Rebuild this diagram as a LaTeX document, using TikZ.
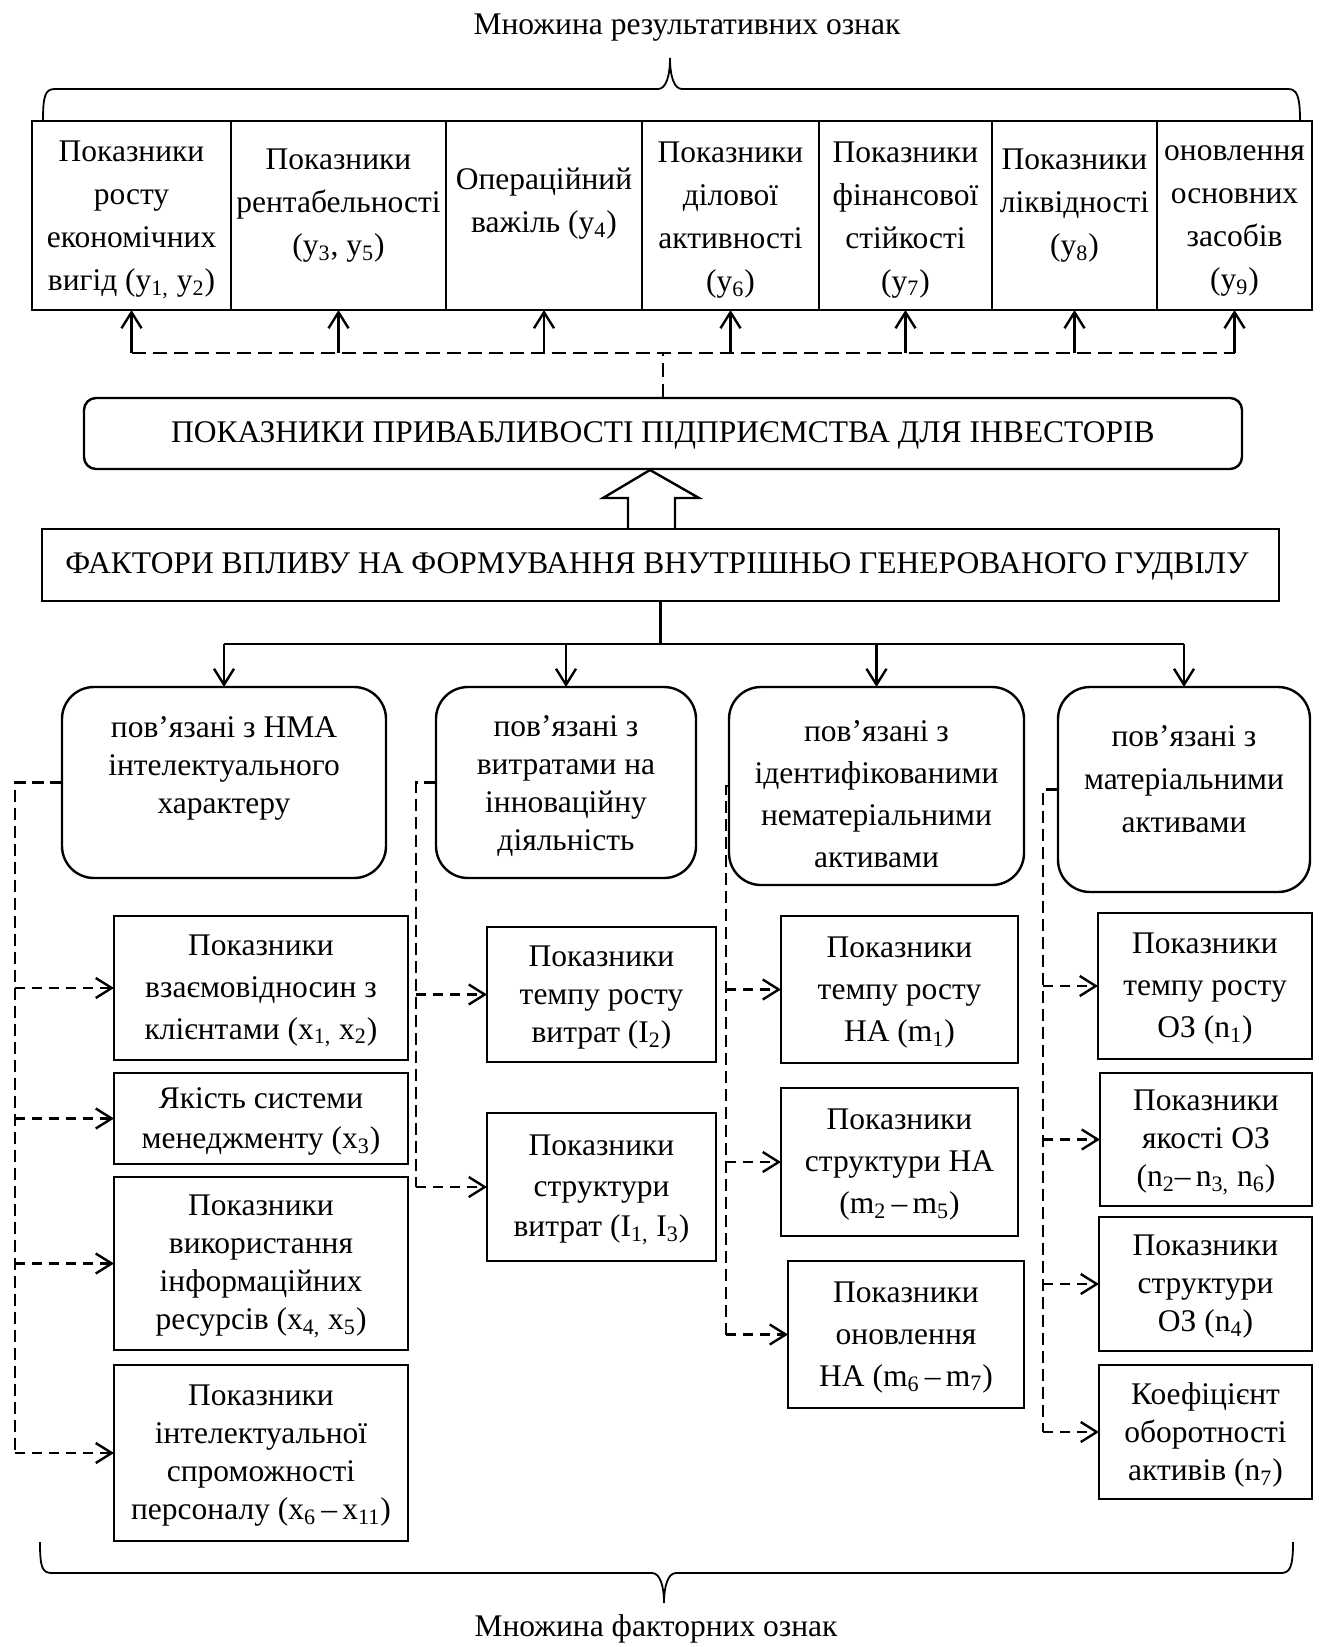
\documentclass[tikz,border=0pt]{standalone}
\usepackage{fontspec}
\setmainfont{Liberation Serif}
\usetikzlibrary{arrows.meta,fit}
\newcommand\sbs[1]{\textsubscript{#1}}
\begin{document}
\begin{tikzpicture}[x=0.5pt,y=-0.5pt,
  every node/.style={inner sep=0pt, outer sep=0pt},
  fA/.style={font=\fontsize{15.75pt}{21.5pt}\selectfont},
  fB/.style={font=\fontsize{15.75pt}{21pt}\selectfont},
  fC/.style={font=\fontsize{15.75pt}{19pt}\selectfont},
  fD/.style={font=\fontsize{15.75pt}{20.25pt}\selectfont},
  txt/.style={align=center, yshift=-1.5pt},
  bx/.style={draw, line width=1.2pt},
  rbx/.style={bx, rounded corners=16pt},
  arr/.style={-{Straight Barb[length=8pt,width=10pt,line width=1.2pt]}},
  dshT/.style={line width=1.3pt, dash pattern=on 7pt off 3.5pt},
  dsh/.style={line width=1.3pt, dash pattern=on 6pt off 3pt},
  dshB/.style={line width=1.3pt, dash pattern=on 5pt off 3.5pt},
  sol/.style={line width=1.2pt},
  brc/.style={line width=0.9pt},
]
\useasboundingbox (0,0) rectangle (1320,1647);
\fill[white] (0,0) rectangle (1320,1647);

% titles
\node[txt,fA] (ttop) at (687,25) {Множина результативних ознак};
\node[txt,fA] (tbot) at (656,1626) {Множина факторних ознак};

% braces
\draw[brc] (43,121) .. controls (43,96) and (45,89) .. (55,89) -- (658,89)
  .. controls (666,89) and (670,76) .. (670,58)
  .. controls (670,76) and (674,89) .. (682,89) -- (1288,89)
  .. controls (1297,89) and (1300,96) .. (1300,121);
\draw[brc] (40,1542) .. controls (40,1567) and (42,1573) .. (52,1573) -- (652,1573)
  .. controls (660,1573) and (664,1586) .. (664,1603)
  .. controls (664,1586) and (668,1573) .. (676,1573) -- (1281,1573)
  .. controls (1290,1573) and (1293,1567) .. (1293,1542);

% top row of result indicators
\node[bx, fit={(32,121)(231,310)}] (r1) {};
\node[bx, fit={(231,121)(446,310)}] (r2) {};
\node[bx, fit={(446,121)(642,310)}] (r3) {};
\node[bx, fit={(642,121)(819,310)}] (r4) {};
\node[bx, fit={(819,121)(992,310)}] (r5) {};
\node[bx, fit={(992,121)(1157,310)}] (r6) {};
\node[bx, fit={(1157,121)(1312,310)}] (r7) {};
\node[txt,fA] (r1t) at (131.5,217) {Показники\\росту\\економічних\\вигід (y\sbs{1,} y\sbs{2})};
\node[txt,fA] (r2t) at (338.5,203) {Показники\\рентабельності\\(y\sbs{3}, y\sbs{5})};
\node[txt,fA] (r3t) at (544,201) {Операційний\\важіль (y\sbs{4})};
\node[txt,fA] (r4t) at (730.5,217) {Показники\\ділової\\активності\\(y\sbs{6})};
\node[txt,fA] (r5t) at (905.5,217) {Показники\\фінансової\\стійкості\\(y\sbs{7})};
\node[txt,fA] (r6t) at (1074.5,203) {Показники\\ліквідності\\(y\sbs{8})};
\node[txt,fA] (r7t) at (1234.5,218) {оновлення\\основних\\засобів\\(y\sbs{9})};

% main boxes
\node[bx, rounded corners=6pt, fit={(84,398)(1242,469)}] (pok) {};
\node[txt,fB] (pokt) at (663,432) {ПОКАЗНИКИ ПРИВАБЛИВОСТІ ПІДПРИЄМСТВА ДЛЯ ІНВЕСТОРІВ};
\node[bx, fit={(42,529)(1279,601)}] (fak) {};
\node[txt,fB] (fakt) at (657,563) {ФАКТОРИ ВПЛИВУ НА ФОРМУВАННЯ ВНУТРІШНЬО ГЕНЕРОВАНОГО ГУДВІЛУ};

% big hollow arrow
\draw[sol, line join=miter] (628,528) -- (628,498) -- (603,498) -- (650,470) -- (699,498) -- (675,498) -- (675,528);

% dashed links to the result row
\coordinate (hl) at (0,353);
\draw[dshT] (r1.south |- hl) -- (r7.south |- hl);
\foreach \i in {1,...,7} {\draw[sol,arr] (r\i.south |- hl) -- (r\i.south);}
\draw[dshT] (pok.north) -- (pok.north |- hl);

% categories
\node[rbx, fit={(62,687)(386,878)}] (c1) {};
\node[txt,fC] (c1t) at (224,765) {пов’язані з НМА\\інтелектуального\\характеру};
\node[rbx, fit={(436,687)(696,878)}] (c2) {};
\node[txt,fC] (c2t) at (566,783.5) {пов’язані з\\витратами на\\інноваційну\\діяльність};
\node[rbx, fit={(729,687)(1024,885)}] (c3) {};
\node[txt,fB] (c3t) at (876.5,791) {пов’язані з\\ідентифікованими\\нематеріальними\\активами};
\node[rbx, fit={(1058,687)(1310,892)}] (c4) {};
\node[txt,fA] (c4t) at (1184,776.5) {пов’язані з\\матеріальними\\активами};

% tree from factors to categories
\coordinate (tj) at (0,644);
\draw[sol] (fak.south) -- (fak.south |- tj);
\draw[sol] (c1.north |- tj) -- (c4.north |- tj);
\foreach \c in {c1,c2,c3,c4} {\draw[sol,arr] (\c.north |- tj) -- (\c.north);}

% column 1
\node[bx, fit={(114,916)(408,1060)}] (x1) {};
\node[txt,fB] (x1t) at (x1.center) {Показники\\взаємовідносин з\\клієнтами (x\sbs{1,} x\sbs{2})};
\node[bx, fit={(114,1073)(408,1164)}] (x3) {};
\node[txt,fD] (x3t) at (x3.center) {Якість системи\\менеджменту (x\sbs{3})};
\node[bx, fit={(114,1177)(408,1350)}] (x45) {};
\node[txt,fC] (x45t) at (x45.center) {Показники\\використання\\інформаційних\\ресурсів (x\sbs{4,} x\sbs{5})};
\node[bx, fit={(114,1365)(408,1541)}] (x6) {};
\node[txt,fC] (x6t) at (x6.center) {Показники\\інтелектуальної\\спроможності\\персоналу (x\sbs{6}\,–\,x\sbs{11})};

% column 2
\node[bx, fit={(487,927)(716,1062)}] (i2) {};
\node[txt,fC] (i2t) at (i2.center) {Показники\\темпу росту\\витрат (I\sbs{2})};
\node[bx, fit={(487,1113)(716,1261)}] (i13) {};
\node[txt,fD] (i13t) at (i13.center) {Показники\\структури\\витрат (I\sbs{1,} I\sbs{3})};

% column 3
\node[bx, fit={(781,916)(1018,1063)}] (m1) {};
\node[txt,fB] (m1t) at (m1.center) {Показники\\темпу росту\\НА (m\sbs{1})};
\node[bx, fit={(781,1088)(1018,1236)}] (m2) {};
\node[txt,fB] (m2t) at (m2.center) {Показники\\структури НА\\(m\sbs{2}\,–\,m\sbs{5})};
\node[bx, fit={(788,1261)(1024,1408)}] (m6) {};
\node[txt,fB] (m6t) at (m6.center) {Показники\\оновлення\\НА (m\sbs{6}\,–\,m\sbs{7})};

% column 4
\node[bx, fit={(1098,913)(1312,1059)}] (n1) {};
\node[txt,fB] (n1t) at (n1.center) {Показники\\темпу росту\\ОЗ (n\sbs{1})};
\node[bx, fit={(1100,1073)(1312,1206)}] (n2) {};
\node[txt,fC] (n2t) at (n2.center) {Показники\\якості ОЗ\\(n\sbs{2}–\,n\sbs{3,} n\sbs{6})};
\node[bx, fit={(1099,1217)(1312,1351)}] (n4) {};
\node[txt,fC] (n4t) at (n4.center) {Показники\\структури\\ОЗ (n\sbs{4})};
\node[bx, fit={(1099,1365)(1312,1499)}] (n7) {};
\node[txt,fC] (n7t) at (n7.center) {Коефіцієнт\\оборотності\\активів (n\sbs{7})};

% dashed trunks
\coordinate (k1) at (15,0);
\coordinate (k2) at (416,0);
\coordinate (k3) at (726,0);
\coordinate (k4) at (1043,0);
\draw[dsh] (c1.west) -- (c1.west -| k1) -- (x6.west -| k1);
\foreach \b in {x1,x3,x45,x6} {\draw[dshB,arr] (\b.west -| k1) -- (\b.west);}
\draw[dsh] (c2.west) -- (c2.west -| k2) -- (i13.west -| k2);
\foreach \b in {i2,i13} {\draw[dshB,arr] (\b.west -| k2) -- (\b.west);}
\draw[dsh] (c3.west) -- (c3.west -| k3) -- (m6.west -| k3);
\foreach \b in {m1,m2,m6} {\draw[dshB,arr] (\b.west -| k3) -- (\b.west);}
\draw[dsh] (c4.west) -- (c4.west -| k4) -- (n7.west -| k4);
\foreach \b in {n1,n2,n4,n7} {\draw[dshB,arr] (\b.west -| k4) -- (\b.west);}
\end{tikzpicture}
\end{document}
